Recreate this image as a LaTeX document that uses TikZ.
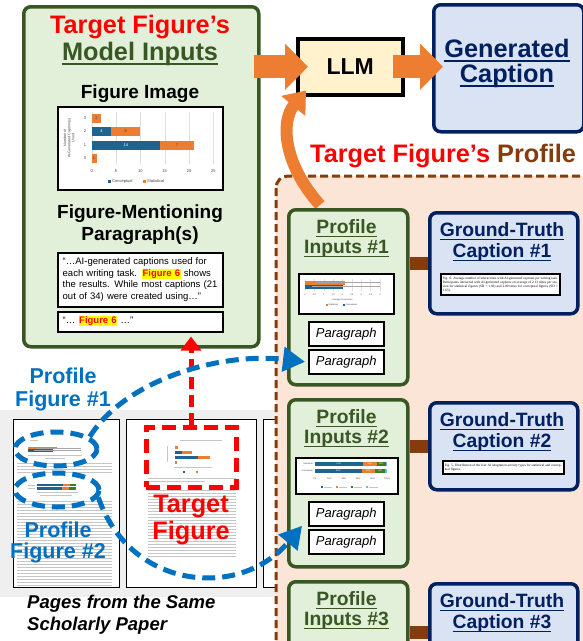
\documentclass[tikz,border=0pt]{standalone}
\usepackage{fontspec}
\setmainfont{Liberation Sans}
\newfontfamily\capserif{Liberation Serif}
\usepackage{tikz}
\usetikzlibrary{arrows.meta, positioning, shapes.geometric}
\usepackage{xcolor}
\definecolor{grndark}{HTML}{385723}
\definecolor{grnfill}{HTML}{E2F0D9}
\definecolor{navy}{HTML}{002060}
\definecolor{blufill}{HTML}{DAE3F3}
\definecolor{peach}{HTML}{FBE5D6}
\definecolor{brwn}{HTML}{843C0C}
\definecolor{orng}{HTML}{ED7D31}
\definecolor{cream}{HTML}{FFF2CC}
\definecolor{bluu}{HTML}{0070C0}
\definecolor{hlyel}{HTML}{FFFF00}
\definecolor{cblue}{HTML}{1F6391}
\definecolor{corange}{HTML}{ED7D31}
\definecolor{cgreen}{HTML}{3A7D22}
\definecolor{clight}{HTML}{5BC0EB}
\definecolor{pageband}{HTML}{EFEFEF}
\newcommand\ulbox[1]{\setbox0=\hbox{#1}\leavevmode\rlap{\rule[-0.2em]{\wd0}{0.07em}}\box0}
\newcommand\figsix{{\setlength\fboxsep{0.7pt}\colorbox{hlyel}{\textcolor{red}{\bfseries Figure 6}}}}
\tikzset{%
	greenbox/.style={draw=grndark, fill=grnfill, line width=3.5pt, rounded corners=7pt, anchor=north west, inner sep=0pt},
	bluebox/.style={draw=navy, fill=blufill, line width=3.5pt, rounded corners=7pt, anchor=north west, inner sep=0pt},
	llmbox/.style={draw=black, fill=cream, line width=3.5pt, anchor=north west, inner sep=0pt, font=\fontsize{23}{23}\selectfont\bfseries},
	imgbox/.style={draw=black, fill=white, line width=1.6pt, anchor=north west, inner sep=0pt},
	parabox/.style={imgbox, minimum width=75pt, minimum height=24pt, font=\fontsize{13}{13}\selectfont\itshape},
	paratext/.style={anchor=north west, inner sep=0pt, text width=160pt, align=left, font=\fontsize{9.5}{11.5}\selectfont},
	pagebox/.style={draw=black, fill=white, line width=1.3pt, anchor=north west, inner sep=0pt},
	bigtitle/.style={anchor=base, inner sep=0pt, font=\fontsize{25.3}{25.3}\selectfont\bfseries},
	subtitle/.style={anchor=base, inner sep=0pt, font=\fontsize{19}{19}\selectfont\bfseries},
	boxtitle/.style={anchor=base, inner sep=0pt, font=\fontsize{19.3}{19.3}\selectfont\bfseries},
	bluetitle/.style={anchor=base, inner sep=0pt, text=bluu, font=\fontsize{21.5}{21.5}\selectfont\bfseries},
	chartlbl/.style={inner sep=0pt, font=\fontsize{4}{4}\selectfont, text=black!75},
	minilbl/.style={inner sep=0pt, font=\fontsize{2.2}{2.2}\selectfont, text=black!75},
	captext/.style={imgbox, align=justify, font=\capserif\fontsize{3.4}{4}\selectfont},
	blockarrow/.style={draw=orng, line width=23pt, -{Triangle[width=45pt,length=23pt]}},
	curvearrow/.style={draw=orng, line width=12pt, -{Triangle[width=30pt,length=20pt]}},
	brlink/.style={draw=brwn, line width=13pt},
	bluedash/.style={draw=bluu, line width=5pt, dash pattern=on 13pt off 7pt},
	bluearrow/.style={bluedash, -{Triangle[width=24pt,length=22pt]}},
	reddash/.style={draw=red, line width=5pt, dash pattern=on 12pt off 6pt},
	redarrow/.style={reddash, -{Triangle[width=20pt,length=14pt]}},
	profarea/.style={draw=brwn, fill=peach, line width=3pt, dash pattern=on 8pt off 4pt, rounded corners=12pt},
	txtline/.style={draw=gray!45, line width=0.9pt},
}
\begin{document}
\begin{tikzpicture}[x=1pt,y=-1pt]
	\useasboundingbox (0,0) rectangle (583,641);
	\clip (0,0) rectangle (583,641);
	
	% pages of the paper
	\fill[pageband] (0,410) rectangle (276,597);
	\node[pagebox, minimum width=106pt, minimum height=168pt] (page1) at (13,419) {};
	\node[pagebox, minimum width=130pt, minimum height=168pt] (page2) at (126,419) {};
	\node[pagebox, minimum width=40pt, minimum height=168pt] (page3) at (263,419) {};
	
	% page 1
	\draw[txtline] (30,440) -- (38,440);
	\fill[corange] (28,446.5) rectangle (57,449);
	\fill[cblue] (28,449) rectangle (53,451.5);
	\draw[gray!70, line width=0.3pt] (36,447.7) -- (81,447.7) (34,450.2) -- (81,450.2);
	\draw[txtline, line width=0.6pt] (28,455) -- (82,455);
	\draw[txtline, line width=0.6pt] (45,458.5) -- (65,458.5);
	\foreach \ly in {463,466,469,472}
		\draw[txtline] (17,\ly) -- (112,\ly);
	\fill[cblue] (37,483.5) rectangle (63,486);
	\fill[corange] (63,483.5) rectangle (70,486);
	\fill[cgreen] (70,483.5) rectangle (76,486);
	\fill[cblue] (37,487) rectangle (62,489.5);
	\fill[corange] (62,487) rectangle (69,489.5);
	\fill[cgreen] (69,487) rectangle (76,489.5);
	\draw[txtline, line width=0.6pt] (28,484.8) -- (35,484.8) (28,488.3) -- (35,488.3);
	\draw[txtline, line width=0.6pt] (37,492.5) -- (78,492.5) (40,495.5) -- (72,495.5);
	\foreach \ly in {501,504,...,585}
		\draw[txtline] (17,\ly) -- (112,\ly);
	
	% page 2
	\draw[txtline] (180,440) -- (222,440);
	\draw[txtline, line width=0.6pt] (167,446) -- (167,462);
	\fill[corange] (175,445.5) rectangle (178.3,448.5);
	\fill[cblue] (175,450.5) rectangle (181.7,453.5);
	\fill[corange] (181.7,450.5) rectangle (191.7,453.5);
	\fill[cblue] (175,455.5) rectangle (198.4,458.5);
	\fill[corange] (198.4,455.5) rectangle (210,458.5);
	\fill[corange] (175,460.5) rectangle (176.7,463.5);
	\draw[txtline, line width=0.6pt] (174,467) -- (212,467);
	\fill[cblue] (183,470.5) rectangle ++(2,2);
	\fill[corange] (196,470.5) rectangle ++(2,2);
	\draw[txtline] (148,478) -- (236,478) (148,481) -- (205,481);
	\foreach \ly in {490,493,...,557}
		\draw[txtline] (148,\ly) -- (236,\ly);
	
	\node[draw=red, line width=5pt, dash pattern=on 14pt off 7pt, minimum width=90pt, minimum height=60pt, inner sep=0pt] (tgt) at (191,457) {};
	\node[bigtitle, text=red] (tgtA) at (191,512) {Target};
	\node[bigtitle, text=red] (tgtB) at (191,539) {Figure};
	
	% profile figures on page 1
	\node[ellipse, bluedash, minimum width=82pt, minimum height=34pt, inner sep=0pt] (pf1) at (56,449) {};
	\node[ellipse, bluedash, minimum width=84pt, minimum height=34pt, inner sep=0pt] (pf2) at (57,490) {};
	\node[bluetitle] (pf1a) at (63,383) {Profile};
	\node[bluetitle] (pf1b) at (63,406) {Figure \#1};
	\node[bluetitle] (pf2a) at (58,537) {Profile};
	\node[bluetitle] (pf2b) at (58,558) {Figure \#2};
	
	\node[anchor=base west, inner sep=0pt, font=\fontsize{18.5}{18.5}\selectfont\bfseries\itshape] (pgA) at (27,608) {Pages from the Same};
	\node[anchor=base west, inner sep=0pt, font=\fontsize{18.5}{18.5}\selectfont\bfseries\itshape] (pgB) at (27,630) {Scholarly Paper};
	
	% model inputs
	\node[greenbox, minimum width=235pt, minimum height=340pt] (mi) at (22,5) {};
	\node[bigtitle, text=red] (mi1) at (140,33) {Target Figure’s};
	\node[bigtitle, text=grndark] (mi2) at (140,60) {\ulbox{Model Inputs}};
	\node[subtitle] (mi3) at (140,98) {Figure Image};
	
	\node[imgbox, minimum width=165pt, minimum height=83pt] (figimg) at (57,106) {};
	\foreach \gx in {0,5,...,25}{
		\draw[gray!25, line width=0.4pt] ({91.7+4.87*\gx},112) -- ({91.7+4.87*\gx},164);
		\node[chartlbl] (xt\gx) at ({91.7+4.87*\gx},171) {\gx};
	}
	\foreach \gy/\yy in {3/118,2/131.5,1/145,0/158.5}
		\node[chartlbl] (yt\gy) at (85,\yy) {\gy};
	\fill[corange] (91.7,113.5) rectangle (101.4,122.5);
	\fill[cblue] (91.7,127) rectangle (111.2,136);
	\fill[corange] (111.2,127) rectangle (140.4,136);
	\fill[cblue] (91.7,140.5) rectangle (159.9,149.5);
	\fill[corange] (159.9,140.5) rectangle (194,149.5);
	\fill[corange] (91.7,154) rectangle (96.6,163);
	\node[chartlbl] (v3) at (96.6,118) {2};
	\node[chartlbl, text=white] (v2a) at (101.4,131.5) {4};
	\node[chartlbl] (v2b) at (125.8,131.5) {6};
	\node[chartlbl, text=white] (v1a) at (125.8,145) {14};
	\node[chartlbl] (v1b) at (177,145) {7};
	\node[chartlbl] (v0) at (94.1,158.5) {1};
	\node[chartlbl, rotate=90, align=center, font=\fontsize{3.6}{4.2}\selectfont] (ytitle) at (69,138) {Number of\\AI-Generated Caption(s)\\Used};
	\fill[cblue] (108,180) rectangle ++(3,3);
	\node[chartlbl, anchor=west] (lg1) at (112,181.5) {Conceptual};
	\fill[corange] (143,180) rectangle ++(3,3);
	\node[chartlbl, anchor=west] (lg2) at (147,181.5) {Statistical};
	
	\node[subtitle] (mi4) at (140,218) {Figure-Mentioning};
	\node[subtitle] (mi5) at (140,240) {Paragraph(s)};
	\node[imgbox, minimum width=165pt, minimum height=54pt] (para1) at (57,252) {};
	\node[paratext] (para1t) at (62.5,257.5) {“…AI-generated captions used for\\each writing task. \figsix{} shows\\the results. While most captions (21\\out of 34) were created using…”};
	\node[imgbox, below=3.4pt of para1, minimum width=165pt, minimum height=20pt] (para2) {};
	\node[paratext, anchor=west] (para2t) at (62.5,321) {“… \figsix{} …”};
	
	% LLM and output
	\node[llmbox, minimum width=105pt, minimum height=56pt] (llm) at (296,37) {LLM};
	\node[bluebox, minimum width=150pt, minimum height=127pt] (gen) at (432,3) {};
	\node[bigtitle, text=navy] (gen1) at (507,57) {\ulbox{Generated}};
	\node[bigtitle, text=navy] (gen2) at (507,82) {\ulbox{Caption}};
	\draw[blockarrow] ([xshift=-7pt]mi.east |- llm.west) -- ([xshift=12pt]llm.west);
	\draw[blockarrow] ([xshift=-12pt]llm.east) -- ([xshift=11pt]gen.west |- llm.east);
	
	% profile
	\draw[profarea] (276,176) rectangle (650,700);
	\node[anchor=base west, inner sep=0pt, font=\fontsize{25.3}{25.3}\selectfont\bfseries] (proft) at (310,162) {\textcolor{red}{Target Figure’s} \textcolor{brwn}{Profile}};
	\coordinate (ctail) at (320,205);
	\draw[curvearrow] (ctail) .. controls (284,165) and (280,122) .. ([shift={(10pt,6pt)}]llm.south west);
	
	% profile #1
	\node[greenbox, minimum width=119pt, minimum height=175pt] (pin1) at (287,208) {};
	\node[boxtitle, text=grndark] (pin1a) at (346.5,233) {\ulbox{Profile}};
	\node[boxtitle, text=grndark] (pin1b) at (346.5,253) {\ulbox{Inputs \#1}};
	\node[imgbox, minimum width=95pt, minimum height=40pt] (pimg1) at (298,273) {};
	\foreach \gx/\gl in {0/0,1/0.5,2/1,3/1.5,4/2,5/2.5,6/3,7/3.5,8/4}{
		\draw[gray!25, line width=0.3pt] ({305+9.375*\gx},279) -- ({305+9.375*\gx},291);
		\node[minilbl] (pa\gx) at ({305+9.375*\gx},294.5) {\gl};
	}
	\fill[corange] (305,280.5) rectangle (345,284.5);
	\fill[cblue] (305,284.5) rectangle (342.5,288.5);
	\draw[gray!70, line width=0.4pt] (316,282.5) -- (380,282.5) (312,286.5) -- (380,286.5);
	\node[minilbl] (pax) at (342.5,299.5) {Average Occurrence};
	\fill[corange] (326,304) rectangle ++(2,2);
	\node[minilbl, anchor=west] (pl1) at (328.5,305) {Statistical};
	\fill[cblue] (343,304) rectangle ++(2,2);
	\node[minilbl, anchor=west] (pl2) at (345.5,305) {Conceptual};
	\node[parabox] (p1a) at (308,321) {Paragraph};
	\node[parabox, below=2.4pt of p1a] (p1b) {Paragraph};
	
	\node[bluebox, minimum width=148pt, minimum height=101pt] (gt1) at (428,211) {};
	\node[boxtitle, text=navy] (gt1a) at (502,236) {\ulbox{Ground-Truth}};
	\node[boxtitle, text=navy] (gt1b) at (502,257) {\ulbox{Caption \#1}};
	\node[captext, minimum width=119pt, minimum height=21pt, text width=115pt] (cap1) at (440,273) {Fig. 6. Average number of interactions with AI-generated captions per writing task. Participants interacted with AI-generated captions on average of 2.13 times per session for statistical figures (SD = 1.92) and 2.00 times for conceptual figures (SD = 1.65).};
	\draw[brlink] (pin1.east |- gt1.west) -- (gt1.west);
	
	% profile #2
	\node[greenbox, minimum width=119pt, minimum height=167pt] (pin2) at (287,398) {};
	\node[boxtitle, text=grndark] (pin2a) at (346.5,423) {\ulbox{Profile}};
	\node[boxtitle, text=grndark] (pin2b) at (346.5,443) {\ulbox{Inputs \#2}};
	\node[imgbox, minimum width=102pt, minimum height=36pt] (pimg2) at (295,457) {};
	\node[minilbl, anchor=east] (ps1) at (313,464) {Statistical};
	\node[minilbl, anchor=east] (ps2) at (313,471) {Conceptual};
	\fill[cblue] (315,462) rectangle (362.5,466);
	\fill[corange] (362.5,462) rectangle (376.9,466);
	\fill[cgreen] (376.9,462) rectangle (385.6,466);
	\fill[clight] (385.6,462) rectangle (387,466);
	\fill[cblue] (315,469) rectangle (361.8,473);
	\fill[corange] (361.8,469) rectangle (374.8,473);
	\fill[cgreen] (374.8,469) rectangle (384.8,473);
	\fill[clight] (384.8,469) rectangle (387,473);
	\node[minilbl, text=white] (pb1) at (338.8,464) {67\%};
	\node[minilbl, text=white] (pb2) at (369.7,464) {20\%};
	\node[minilbl, text=white] (pb3) at (381.2,464) {13\%};
	\node[minilbl, text=white] (pb4) at (338.4,471) {65\%};
	\node[minilbl, text=white] (pb5) at (368.3,471) {20\%};
	\node[minilbl, text=white] (pb6) at (379.8,471) {14\%};
	\foreach \gx in {0,20,...,100}
		\node[minilbl] (pp\gx) at ({315+0.72*\gx},479) {\gx\%};
	\fill[cblue] (321,486) rectangle ++(2,2);
	\fill[corange] (336,486) rectangle ++(2,2);
	\fill[cgreen] (351,486) rectangle ++(2,2);
	\fill[clight] (366,486) rectangle ++(2,2);
	\draw[txtline, line width=0.5pt] (324,487) -- (332,487) (339,487) -- (347,487) (354,487) -- (362,487) (369,487) -- (378,487);
	\node[parabox] (p2a) at (308,501) {Paragraph};
	\node[parabox, below=2.4pt of p2a] (p2b) {Paragraph};
	
	\node[bluebox, minimum width=148pt, minimum height=87pt] (gt2) at (428,401) {};
	\node[boxtitle, text=navy] (gt2a) at (502,426) {\ulbox{Ground-Truth}};
	\node[boxtitle, text=navy] (gt2b) at (502,447) {\ulbox{Caption \#2}};
	\node[captext, minimum width=121pt, minimum height=13pt, text width=117pt] (cap2) at (442,460) {Fig. 5. Distribution of the four AI integration activity types for statistical and conceptual figures.};
	\draw[brlink] (pin2.east |- gt2.west) -- (gt2.west);
	
	% profile #3
	\node[greenbox, minimum width=119pt, minimum height=100pt] (pin3) at (287,580) {};
	\node[boxtitle, text=grndark] (pin3a) at (346.5,605) {\ulbox{Profile}};
	\node[boxtitle, text=grndark] (pin3b) at (346.5,625) {\ulbox{Inputs \#3}};
	\node[bluebox, minimum width=148pt, minimum height=98pt] (gt3) at (428,582) {};
	\node[boxtitle, text=navy] (gt3a) at (502,607) {\ulbox{Ground-Truth}};
	\node[boxtitle, text=navy] (gt3b) at (502,628) {\ulbox{Caption \#3}};
	\draw[brlink] (pin3.east |- gt3.west) -- (gt3.west);
	
	% dashed links
	\draw[redarrow] (tgt.north) -- ([yshift=12pt]tgt.north |- mi.south);
	\draw[bluearrow] (pf1.20) .. controls (125,380) and (220,352) .. ([xshift=-3pt]p1b.west);
	\draw[bluearrow] (pf2.-10) .. controls (130,590) and (240,600) .. ([shift={(-6pt,-12pt)}]p2a.west);
\end{tikzpicture}
\end{document}
